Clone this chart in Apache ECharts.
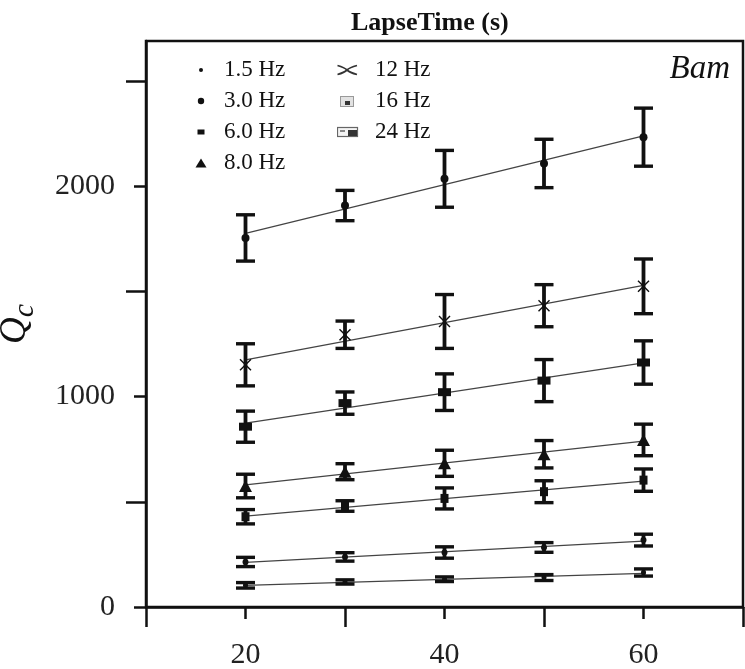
<!DOCTYPE html>
<html>
<head>
<meta charset="utf-8">
<script src="https://cdn.jsdelivr.net/npm/echarts@6/dist/echarts.min.js"></script>
<style>
  html, body { margin: 0; padding: 0; background: #fff; }
  #chart { width: 745px; height: 669px; }
</style>
</head>
<body>
<div id="chart"></div>
<script>
// Lapse time (s) of each measurement window
const lapseTime = [20, 30, 40, 50, 60];

// Qc estimates per frequency band and their error half-widths
const qc_1_5 = [103, 119, 132, 140, 164];
const err_1_5 = [13, 10, 11, 14, 17];
const qc_3_0 = [214, 238, 259, 283, 318];
const err_3_0 = [22, 20, 27, 23, 28];
const qc_6_0 = [429, 480, 516, 548, 603];
const err_6_0 = [34, 25, 50, 52, 53];
const qc_8_0 = [575, 643, 683, 726, 794];
const err_8_0 = [56, 38, 62, 65, 75];
const qc_12 = [857, 969, 1021, 1076, 1162];
const err_12 = [74, 53, 87, 100, 103];
const qc_16 = [1151, 1294, 1357, 1432, 1524];
const err_16 = [100, 65, 128, 100, 130];
const qc_24 = [1754, 1908, 2035, 2108, 2233];
const err_24 = [110, 72, 135, 115, 138];

// Axis ticks and labels
const xLabelTicks = [20, 40, 60];
const xLongTicks = [10, 30, 50, 70];
const yLabelTicks = [0, 1000, 2000];
const yLongTicks = [500, 1500, 2500];

const FONT = 'Liberation Serif';
const INK = '#111';

// x-mark drawn for the 16 Hz band
const crossPath = 'path://M0,1 L1,0 L6,5 L11,0 L12,1 L7,6 L12,11 L11,12 L6,7 L1,12 L0,11 L5,6 Z';

const bands = [
  { name: '1.5 Hz', qc: qc_1_5, err: err_1_5, symbol: 'circle', size: 5 },
  { name: '3.0 Hz', qc: qc_3_0, err: err_3_0, symbol: 'circle', size: 6 },
  { name: '6.0 Hz', qc: qc_6_0, err: err_6_0, symbol: 'rect', size: [8, 9] },
  { name: '8.0 Hz', qc: qc_8_0, err: err_8_0, symbol: 'triangle', size: [13, 12] },
  { name: '12 Hz', qc: qc_12, err: err_12, symbol: 'rect', size: [13, 8] },
  { name: '16 Hz', qc: qc_16, err: err_16, symbol: crossPath, size: 12 },
  { name: '24 Hz', qc: qc_24, err: err_24, symbol: 'circle', size: 8 }
];

// least-squares straight line through one band
function fitLine(xs, ys) {
  const n = xs.length;
  const mx = xs.reduce((a, b) => a + b, 0) / n;
  const my = ys.reduce((a, b) => a + b, 0) / n;
  let sxy = 0, sxx = 0;
  for (let i = 0; i < n; i++) {
    sxy += (xs[i] - mx) * (ys[i] - my);
    sxx += (xs[i] - mx) * (xs[i] - mx);
  }
  const k = sxy / sxx;
  const x0 = xs[0], x1 = xs[n - 1];
  return [[x0, my + k * (x0 - mx)], [x1, my + k * (x1 - mx)]];
}

function renderErrorBar(params, api) {
  const x = api.value(0);
  const lo = api.coord([x, api.value(1)]);
  const hi = api.coord([x, api.value(2)]);
  const hw = 9.5;
  const style = { stroke: INK, lineWidth: 3.4, lineCap: 'butt' };
  return {
    type: 'group',
    children: [
      { type: 'line', shape: { x1: lo[0], y1: lo[1], x2: hi[0], y2: hi[1] }, style: { stroke: INK, lineWidth: 3.8 } },
      { type: 'line', shape: { x1: lo[0] - hw, y1: lo[1], x2: lo[0] + hw, y2: lo[1] }, style },
      { type: 'line', shape: { x1: hi[0] - hw, y1: hi[1], x2: hi[0] + hw, y2: hi[1] }, style }
    ]
  };
}

const series = [];
bands.forEach(b => {
  series.push({
    name: b.name, type: 'line', data: fitLine(lapseTime, b.qc),
    symbol: 'none', silent: true, z: 2,
    lineStyle: { color: '#444', width: 1.2 }
  });
  series.push({
    name: b.name, type: 'custom', renderItem: renderErrorBar, z: 3, silent: true,
    encode: { x: 0, y: [1, 2] },
    data: lapseTime.map((t, i) => [t, b.qc[i] - b.err[i], b.qc[i] + b.err[i]])
  });
  series.push({
    name: b.name, type: 'scatter', z: 4, silent: true,
    symbol: b.symbol, symbolSize: b.size,
    itemStyle: { color: INK, opacity: 1 },
    data: lapseTime.map((t, i) => [t, b.qc[i]])
  });
});

function svgIcon(w, h, body) {
  const svg = '<svg xmlns="http://www.w3.org/2000/svg" width="' + w + '" height="' + h +
    '" viewBox="0 0 ' + w + ' ' + h + '">' + body + '</svg>';
  return 'image://data:image/svg+xml;charset=utf-8,' + encodeURIComponent(svg);
}

const legendIconsLeft = {
  '1.5 Hz': svgIcon(28, 14, '<circle cx="10" cy="7" r="2" fill="#111"/>'),
  '3.0 Hz': svgIcon(28, 14, '<circle cx="10" cy="7" r="3.2" fill="#111"/>'),
  '6.0 Hz': svgIcon(28, 14, '<rect x="6.5" y="4.5" width="7" height="5" fill="#111"/>'),
  '8.0 Hz': svgIcon(28, 14, '<polygon points="4.5,11.5 10,2.5 15.5,11.5" fill="#111"/>')
};
const legendIconsRight = {
  '12 Hz': svgIcon(33, 14,
    '<path d="M0.5,2.5 C6,4 9,6 10,7 C11,8 14,10 20,11.5 M0.5,11.5 C6,10 9,8 10,7 C11,6 14,4 20,2.5" ' +
    'stroke="#333" stroke-width="1.8" fill="none"/>'),
  '16 Hz': svgIcon(33, 14,
    '<rect x="3.5" y="2.5" width="13" height="10" fill="#e2e2e2" stroke="#999" stroke-width="1"/>' +
    '<rect x="8" y="7" width="5" height="4" fill="#333"/>'),
  '24 Hz': svgIcon(33, 14,
    '<rect x="0.5" y="2.5" width="20" height="9" fill="#f4f4f4" stroke="#666" stroke-width="1.2"/>' +
    '<rect x="11" y="5" width="9" height="6" fill="#333"/>' +
    '<rect x="3" y="5" width="5" height="2" fill="#888"/>')
};

const legendText = { fontFamily: FONT, fontSize: 23, color: INK, lineHeight: 24 };
const plainNumber = v => String(v);

const option = {
  animation: false,
  backgroundColor: '#fff',
  title: [
    {
      text: 'LapseTime (s)', left: 346, top: 5,
      textStyle: { fontFamily: FONT, fontSize: 26, fontWeight: 'bold', color: INK }
    },
    {
      text: 'Bam', right: 10, top: 48,
      textStyle: { fontFamily: FONT, fontSize: 33, fontStyle: 'italic', fontWeight: 'normal', color: INK }
    }
  ],
  legend: [
    {
      left: 186, top: 53, orient: 'vertical', itemWidth: 28, itemHeight: 14, itemGap: 7,
      selectedMode: false, textStyle: legendText,
      data: Object.keys(legendIconsLeft).map(n => ({ name: n, icon: legendIconsLeft[n] }))
    },
    {
      left: 332, top: 53, orient: 'vertical', itemWidth: 33, itemHeight: 14, itemGap: 7,
      selectedMode: false, textStyle: legendText,
      data: Object.keys(legendIconsRight).map(n => ({ name: n, icon: legendIconsRight[n] }))
    }
  ],
  grid: {
    left: 146, right: 2, top: 41, bottom: 62,
    show: true, borderColor: INK, borderWidth: 2.5, backgroundColor: 'transparent',
    outerBoundsMode: 'none'
  },
  xAxis: [
    {
      type: 'value', min: 10, max: 70, position: 'bottom',
      axisLine: { show: true, onZero: false, lineStyle: { color: INK, width: 2.5 } },
      axisTick: { show: true, customValues: xLabelTicks, length: 12, lineStyle: { color: INK, width: 2.5 } },
      axisLabel: {
        show: true, customValues: xLabelTicks, margin: 33, formatter: plainNumber,
        fontFamily: FONT, fontSize: 30, color: '#222'
      },
      splitLine: { show: false }
    },
    {
      type: 'value', min: 10, max: 70, position: 'bottom',
      axisLine: { show: false },
      axisTick: { show: true, customValues: xLongTicks, length: 20, lineStyle: { color: INK, width: 2.5 } },
      axisLabel: { show: false },
      splitLine: { show: false }
    }
  ],
  yAxis: [
    {
      type: 'value', min: 0, max: 2690, position: 'left',
      name: '{q|Q}{c|c}', nameLocation: 'middle', nameRotate: 90, nameGap: 106,
      nameTextStyle: {
        rich: {
          q: { fontFamily: FONT, fontStyle: 'italic', fontSize: 37, lineHeight: 50, verticalAlign: 'middle', color: INK },
          c: { fontFamily: FONT, fontStyle: 'italic', fontSize: 30, lineHeight: 50, verticalAlign: 'bottom', color: INK }
        }
      },
      axisLine: { show: true, onZero: false, lineStyle: { color: INK, width: 2.5 } },
      axisTick: { show: true, customValues: yLabelTicks, length: 12, lineStyle: { color: INK, width: 2.5 } },
      axisLabel: {
        show: true, customValues: yLabelTicks, margin: 31, formatter: plainNumber,
        fontFamily: FONT, fontSize: 30, color: '#222'
      },
      splitLine: { show: false }
    },
    {
      type: 'value', min: 0, max: 2690, position: 'left',
      axisLine: { show: false },
      axisTick: { show: true, customValues: yLongTicks, length: 20, lineStyle: { color: INK, width: 2.5 } },
      axisLabel: { show: false },
      splitLine: { show: false }
    }
  ],
  series: series
};

const chart = echarts.init(document.getElementById('chart'), null, { renderer: 'canvas' });
chart.setOption(option);
</script>
</body>
</html>
